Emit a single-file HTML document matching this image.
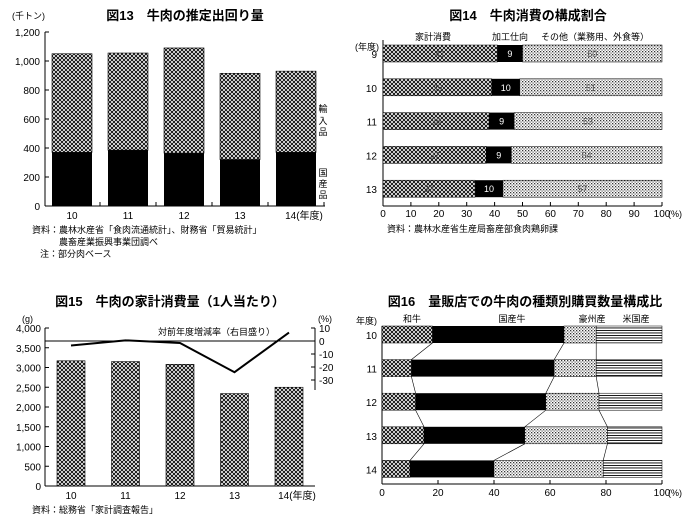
<!DOCTYPE html>
<html><head><meta charset="utf-8"><style>
body{margin:0;background:#fff}
svg{display:block;font-family:"Liberation Sans","Noto Sans CJK JP",sans-serif}
.t{font-weight:bold;font-size:13px}
.s{font-size:9px}
.k{font-size:10px}
</style></head><body>
<svg id="c" width="700" height="525" viewBox="0 0 700 525">
<defs>
<pattern id="ch" width="4" height="4" patternUnits="userSpaceOnUse"><rect width="4" height="4" fill="#fff"/><path d="M0 0L4 4M4 0L0 4" stroke="#000" stroke-width="0.9"/></pattern>
<pattern id="dt" width="3" height="3" patternUnits="userSpaceOnUse"><rect width="3" height="3" fill="#fff"/><rect x="0" y="0" width="1.3" height="1.3" fill="#333"/><rect x="1.5" y="1.5" width="1.2" height="1.2" fill="#555"/></pattern>
<pattern id="hl" width="4" height="2.5" patternUnits="userSpaceOnUse"><rect width="4" height="2.5" fill="#fff"/><rect y="0" width="4" height="0.9" fill="#000"/></pattern>
</defs>
<g id="g13"></g>
<g id="g14"></g>
<g id="g15"></g>
<g id="g16"></g>
</svg>
<script>
// Chart 13
const c13Years=["10","11","12","13","14"];
const c13Domestic=[370,385,365,320,370];
const c13Total=[1050,1055,1090,915,930];
const c13Ticks=[0,200,400,600,800,1000,1200];
// Chart 14
const c14Years=["9","10","11","12","13"];
const c14Home=[41,39,38,37,33];
const c14Proc=[9,10,9,9,10];
const c14Other=[50,51,53,54,57];
const c14Ticks=[0,10,20,30,40,50,60,70,80,90,100];
// Chart 15
const c15Years=["10","11","12","13","14"];
const c15Amount=[3170,3150,3080,2340,2500];
const c15Rate=[-3.5,0.5,-1.5,-24,6.5];
const c15LeftTicks=[0,500,1000,1500,2000,2500,3000,3500,4000];
const c15RightTicks=[10,0,-10,-20,-30];
// Chart 16
const c16Years=["10","11","12","13","14"];
const c16Wagyu=[18,10.5,12,15,10];
const c16Domestic=[47,51,46.5,36,30];
const c16Aus=[11.5,15,19,29.5,39];
const c16Ticks=[0,20,40,60,80,100];

const NS="http://www.w3.org/2000/svg";
function mk(p,tag,at,txt){const e=document.createElementNS(NS,tag);for(const k in at)e.setAttribute(k,at[k]);if(txt!==undefined)e.textContent=txt;p.appendChild(e);return e;}
function fmt(n){return n.toLocaleString("en-US");}

// ---- Chart 13
(function(){
const g=document.getElementById("g13");
const y=v=>206-v*(174/1200), bx=i=>52+i*56;
let e=mk(g,"text",{x:185,y:20,"text-anchor":"middle",class:"t"},"図13　牛肉の推定出回り量");

mk(g,"text",{x:12,y:19,class:"s"},"(千トン)");
mk(g,"line",{x1:45,y1:32,x2:45,y2:206,stroke:"#000"});
mk(g,"line",{x1:45,y1:206,x2:325,y2:206,stroke:"#000"});
c13Ticks.forEach(t=>{mk(g,"line",{x1:45,y1:y(t),x2:49,y2:y(t),stroke:"#000"});
 e=mk(g,"text",{x:40,y:y(t)+4,"text-anchor":"end",class:"k"},fmt(t));
 });
c13Years.forEach((yr,i)=>{
 e=mk(g,"rect",{x:bx(i),y:y(c13Total[i]),width:40,height:y(c13Domestic[i])-y(c13Total[i]),fill:"url(#ch)",stroke:"#000","stroke-width":0.6});
 
 e=mk(g,"rect",{x:bx(i),y:y(c13Domestic[i]),width:40,height:206-y(c13Domestic[i]),fill:"#000"});
 
 mk(g,"line",{x1:bx(i)+48,y1:202,x2:bx(i)+48,y2:206,stroke:"#000"});
 e=mk(g,"text",{x:bx(i)+20+(i==4?8:0),y:219,"text-anchor":"middle",class:"k"},yr+(i==4?"(年度)":""));
 });
[["輸",112],["入",124],["品",135]].forEach(a=>mk(g,"text",{x:323,y:a[1],"text-anchor":"middle",class:"s"},a[0]));
[["国",176],["産",187],["品",198]].forEach(a=>mk(g,"text",{x:323,y:a[1],"text-anchor":"middle",class:"s"},a[0]));
mk(g,"text",{x:32,y:233,class:"s"},"資料：農林水産省「食肉流通統計」、財務省「貿易統計」");
mk(g,"text",{x:59,y:245,class:"s"},"農畜産業振興事業団調べ");
mk(g,"text",{x:40,y:257,class:"s"},"注：部分肉ベース");
})();

// ---- Chart 14
(function(){
const g=document.getElementById("g14");
const x=v=>383+v*2.79, ry=i=>45+i*33.8;
let e=mk(g,"text",{x:528,y:20,"text-anchor":"middle",class:"t"},"図14　牛肉消費の構成割合");

mk(g,"text",{x:433,y:40,"text-anchor":"middle",class:"s"},"家計消費");
mk(g,"text",{x:510,y:40,"text-anchor":"middle",class:"s"},"加工仕向");
mk(g,"text",{x:595,y:40,"text-anchor":"middle",class:"s"},"その他（業務用、外食等）");
mk(g,"text",{x:355,y:50,class:"s"},"(年度)");
mk(g,"line",{x1:383,y1:40,x2:383,y2:206,stroke:"#000"});
mk(g,"line",{x1:383,y1:206,x2:662,y2:206,stroke:"#000"});
c14Ticks.forEach(t=>{mk(g,"line",{x1:x(t),y1:202,x2:x(t),y2:206,stroke:"#000"});
 e=mk(g,"text",{x:x(t),y:217,"text-anchor":"middle",class:"k"},String(t));
 });
mk(g,"text",{x:668,y:217,class:"s"},"(%)");
c14Years.forEach((yr,i)=>{
 const y0=ry(i),a=c14Home[i],b=a+c14Proc[i],c=b+c14Other[i];
 e=mk(g,"rect",{x:x(0),y:y0,width:x(a)-x(0),height:17,fill:"url(#ch)",stroke:"#000","stroke-width":0.5});
 
 e=mk(g,"rect",{x:x(a),y:y0,width:x(b)-x(a),height:17,fill:"#000"});
 
 e=mk(g,"rect",{x:x(b),y:y0,width:x(c)-x(b),height:17,fill:"url(#dt)",stroke:"#000","stroke-width":0.5});
 
 mk(g,"text",{x:x(a/2),y:y0+12,"text-anchor":"middle",class:"s",fill:"#555"},String(c14Home[i]));
 mk(g,"text",{x:x((a+b)/2),y:y0+12,"text-anchor":"middle",class:"s",fill:"#fff"},String(c14Proc[i]));
 mk(g,"text",{x:x((b+c)/2),y:y0+12,"text-anchor":"middle",class:"s",fill:"#555"},String(c14Other[i]));
 e=mk(g,"text",{x:377,y:y0+13,"text-anchor":"end",class:"k"},yr);
 });
mk(g,"text",{x:387,y:232,class:"s"},"資料：農林水産省生産局畜産部食肉鶏卵課");
})();

// ---- Chart 15
(function(){
const g=document.getElementById("g15");
const y=v=>486-v*(158/4000), yr2=v=>341-v*1.3, bx=i=>57+i*54.5;
let e=mk(g,"text",{x:170,y:306,"text-anchor":"middle",class:"t"},"図15　牛肉の家計消費量（1人当たり）");

mk(g,"text",{x:22,y:322,class:"s"},"(g)");
mk(g,"text",{x:318,y:322,class:"s"},"(%)");
mk(g,"line",{x1:45,y1:328,x2:45,y2:486,stroke:"#000"});
mk(g,"line",{x1:45,y1:486,x2:315,y2:486,stroke:"#000"});
mk(g,"line",{x1:315,y1:328,x2:315,y2:390,stroke:"#000"});
c15LeftTicks.forEach(t=>{mk(g,"line",{x1:45,y1:y(t),x2:49,y2:y(t),stroke:"#000"});
 e=mk(g,"text",{x:41,y:y(t)+4,"text-anchor":"end",class:"k"},fmt(t));
 });
c15RightTicks.forEach(t=>{mk(g,"line",{x1:311,y1:yr2(t),x2:315,y2:yr2(t),stroke:"#000"});
 e=mk(g,"text",{x:319,y:yr2(t)+4,class:"k"},String(t));
 });
mk(g,"line",{x1:45,y1:yr2(0),x2:315,y2:yr2(0),stroke:"#000"});
c15Years.forEach((yr,i)=>{
 e=mk(g,"rect",{x:bx(i),y:y(c15Amount[i]),width:28,height:486-y(c15Amount[i]),fill:"url(#ch)",stroke:"#000","stroke-width":0.6});
 
 e=mk(g,"text",{x:bx(i)+14+(i==4?8:0),y:499,"text-anchor":"middle",class:"k"},yr+(i==4?"(年度)":""));
 });
e=mk(g,"polyline",{points:c15Rate.map((r,i)=>(bx(i)+14)+","+yr2(r)).join(" "),fill:"none",stroke:"#000","stroke-width":2});

mk(g,"text",{x:158,y:335,class:"s"},"対前年度増減率（右目盛り）");
mk(g,"text",{x:32,y:513,class:"s"},"資料：総務省「家計調査報告」");
})();

// ---- Chart 16
(function(){
const g=document.getElementById("g16");
const x=v=>382+v*2.8, ry=i=>326+i*33.6;
let e=mk(g,"text",{x:525,y:306,"text-anchor":"middle",class:"t"},"図16　量販店での牛肉の種類別購買数量構成比");

mk(g,"text",{x:412,y:322,"text-anchor":"middle",class:"s"},"和牛");
mk(g,"text",{x:512,y:322,"text-anchor":"middle",class:"s"},"国産牛");
mk(g,"text",{x:592,y:322,"text-anchor":"middle",class:"s"},"豪州産");
mk(g,"text",{x:636,y:322,"text-anchor":"middle",class:"s"},"米国産");
mk(g,"text",{x:356,y:324,class:"s"},"年度)");
mk(g,"line",{x1:382,y1:326,x2:382,y2:484,stroke:"#000"});
mk(g,"line",{x1:382,y1:484,x2:662,y2:484,stroke:"#000"});
c16Ticks.forEach(t=>{mk(g,"line",{x1:x(t),y1:480,x2:x(t),y2:484,stroke:"#000"});
 e=mk(g,"text",{x:x(t),y:496,"text-anchor":"middle",class:"k"},String(t));
 });
mk(g,"text",{x:668,y:496,class:"s"},"(%)");
const cum=c16Years.map((_,i)=>{const a=c16Wagyu[i],b=a+c16Domestic[i],c=b+c16Aus[i];return [a,b,c];});
c16Years.forEach((yr,i)=>{
 const y0=ry(i),[a,b,c]=cum[i];
 e=mk(g,"rect",{x:x(0),y:y0,width:x(a)-x(0),height:17,fill:"url(#ch)",stroke:"#000","stroke-width":0.5});
 
 e=mk(g,"rect",{x:x(a),y:y0,width:x(b)-x(a),height:17,fill:"#000"});
 
 e=mk(g,"rect",{x:x(b),y:y0,width:x(c)-x(b),height:17,fill:"url(#dt)",stroke:"#000","stroke-width":0.5});
 
 e=mk(g,"rect",{x:x(c),y:y0,width:x(100)-x(c),height:17,fill:"url(#hl)",stroke:"#000","stroke-width":0.5});
 
 e=mk(g,"text",{x:377,y:y0+13,"text-anchor":"end",class:"k"},yr);
 
 if(i<4){const n=cum[i+1];[0,1,2].forEach(k=>mk(g,"line",{x1:x(cum[i][k]),y1:y0+17,x2:x(n[k]),y2:ry(i+1),stroke:"#000","stroke-width":0.6}));}
});
})();
</script>
</body></html>
